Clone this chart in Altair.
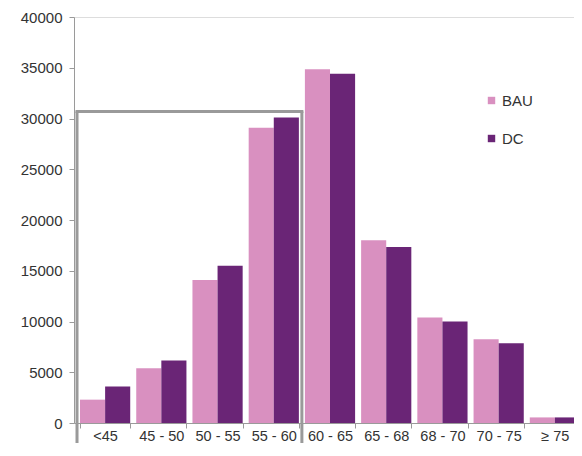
import altair as alt
import pandas as pd

categories = ["<45", "45 - 50", "50 - 55", "55 - 60", "60 - 65", "65 - 68", "68 - 70", "70 - 75", "≥ 75"]
bau = [2300, 5400, 14100, 29100, 34850, 18000, 10400, 8250, 550]
dc = [3600, 6150, 15500, 30100, 34400, 17350, 10000, 7850, 550]
series = ["BAU", "DC"]
colors = ["#d990c0", "#6a2576"]

box_top = 30700
box_bottom = -6000
box_start = "<45"
box_end = "55 - 60"

rows = []
for c, b, d in zip(categories, bau, dc):
    rows.append({"cat": c, "series": "BAU", "value": b})
    rows.append({"cat": c, "series": "DC", "value": d})
df = pd.DataFrame(rows)

xscale = alt.Scale(domain=categories, paddingInner=0.107, paddingOuter=0.107)
yscale = alt.Scale(domain=[0, 40000], nice=False)
font = "Liberation Sans"
text_color = "#333333"
gray = "#9a9a9a"

bars = alt.Chart(df).mark_bar().encode(
    x=alt.X("cat:N", scale=xscale, sort=categories,
            axis=alt.Axis(title=None, labelAngle=0, tickBand="extent", labelFontSize=14.5,
                          labelColor=text_color, labelFont=font, labelPadding=1,
                          domainColor=gray, tickColor=gray, tickSize=5, labelOverlap=False)),
    xOffset=alt.XOffset("series:N", sort=series),
    y=alt.Y("value:Q", scale=yscale,
            axis=alt.Axis(title=None, values=list(range(0, 40001, 5000)), format="d", grid=False,
                          labelFontSize=15, labelColor=text_color, labelFont=font,
                          domainColor=gray, tickColor=gray, tickSize=5, labelPadding=7)),
    color=alt.Color("series:N", scale=alt.Scale(domain=series, range=colors),
                    legend=alt.Legend(title=None, orient="none", legendX=410, legendY=76,
                                      symbolType="square", symbolSize=55, symbolStrokeWidth=0,
                                      labelFontSize=15, labelFont=font, labelColor=text_color,
                                      rowPadding=22, labelOffset=3)),
)

box_df = pd.DataFrame([{"a": box_start, "b": box_end, "top": box_top, "bottom": box_bottom}])

top_rule = alt.Chart(box_df).mark_rule(color=gray, strokeWidth=3, xOffset=-3, x2Offset=3, strokeCap="square").encode(
    x=alt.X("a:N", scale=xscale, bandPosition=0),
    x2=alt.X2("b", bandPosition=1),
    y=alt.Y("top:Q", scale=yscale),
)
left_rule = alt.Chart(box_df).mark_rule(color=gray, strokeWidth=3, xOffset=-3).encode(
    x=alt.X("a:N", scale=xscale, bandPosition=0),
    y=alt.Y("top:Q", scale=yscale),
    y2="bottom:Q",
)
right_rule = alt.Chart(box_df).mark_rule(color=gray, strokeWidth=3, xOffset=3).encode(
    x=alt.X("b:N", scale=xscale, bandPosition=1),
    y=alt.Y("top:Q", scale=yscale),
    y2="bottom:Q",
)

chart = alt.layer(bars, top_rule, left_rule, right_rule).properties(
    width=512, height=406,
    autosize=alt.AutoSizeParams(type="none"),
    padding={"left": 66, "top": 9, "right": -12, "bottom": 20},
).configure_view(stroke=None).configure(background="white")

chart.save("out.html", embed_options={"renderer": "svg", "actions": False})
